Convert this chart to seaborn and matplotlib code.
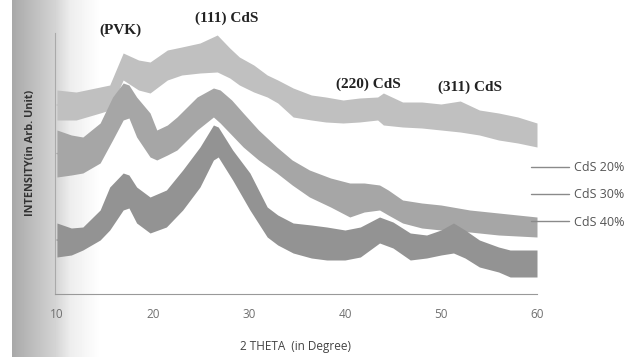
import numpy as np
import pandas as pd
import matplotlib
matplotlib.use("Agg")
import matplotlib.pyplot as plt
import seaborn as sns

# band envelopes (intensity in arb. units, 0 = x-axis)
theta_20 = [10, 12, 14.5, 15.5, 16.9, 18.5, 19.7, 21.5, 23, 24.9, 26.7, 28, 29, 30.5, 31.9, 33,
            34.6, 36.5, 38, 39.8, 41.5, 43.4, 44, 46, 48, 50, 52, 54, 56, 58, 60]
top_20 = [204, 202, 207, 209, 241, 234, 232, 244, 247, 251, 259, 246, 237, 229, 219, 214,
          206, 199, 197, 194, 196, 197, 201, 192, 192, 190, 193, 184, 181, 177, 171]
bot_20 = [174, 174, 181, 184, 214, 204, 201, 214, 219, 221, 222, 216, 209, 202, 197, 191,
          177, 174, 172, 171, 172, 174, 169, 167, 166, 164, 162, 159, 154, 151, 147]

theta_30 = [10, 11.5, 12.7, 14.5, 15.8, 16.9, 17.5, 18.3, 19.7, 20.4, 21.5, 22.5, 24.6, 26.3, 27,
            28.2, 29.4, 31, 32.9, 34.5, 36.3, 38.5, 40.5, 42, 43.6, 44.5, 46, 48, 50, 53, 56, 60]
top_30 = [164, 159, 157, 171, 197, 211, 209, 197, 181, 164, 169, 177, 197, 206, 204,
          194, 181, 164, 147, 134, 124, 116, 111, 111, 109, 104, 94, 91, 89, 84, 81, 77]
bot_30 = [117, 119, 121, 131, 154, 174, 176, 157, 137, 134, 139, 144, 164, 177, 171,
          159, 147, 134, 121, 109, 97, 87, 77, 82, 84, 79, 71, 66, 64, 62, 59, 57]

theta_40 = [10, 11.5, 12.7, 14.5, 15.5, 16.9, 17.5, 18.3, 19.7, 21.4, 23.1, 24.9, 26.3, 26.8,
            28.3, 30.1, 31.9, 33, 34.6, 36.5, 38.1, 40, 41.6, 43.6, 45, 46.8, 48.5, 50, 51.3,
            52.5, 54, 56, 57.2, 60]
top_40 = [71, 66, 67, 84, 107, 121, 119, 107, 97, 104, 124, 147, 169, 167,
          144, 121, 87, 79, 71, 69, 67, 64, 67, 77, 72, 61, 59, 64, 71,
          64, 54, 47, 44, 44]
bot_40 = [37, 39, 44, 54, 64, 84, 86, 71, 61, 67, 84, 107, 134, 137,
          114, 84, 57, 49, 41, 36, 34, 34, 37, 51, 46, 34, 36, 39, 41,
          36, 27, 22, 17, 17]

labels = ["CdS 20%", "CdS 30%", "CdS 40%"]
band_colors = ["#c0c0c0", "#a6a6a6", "#939393"]
peak_names = ["(PVK)", "(111) CdS", "(220) CdS", "(311) CdS"]
peak_pos = [(16.6, 264), (27.7, 276), (42.4, 210), (53.0, 207)]

sns.set_theme(style="white")
plt.rcParams["font.family"] = ["Open Sans", "DejaVu Sans"]

fig = plt.figure(figsize=(6.34, 3.57), dpi=100)

# scan shadow on the left edge
bg = fig.add_axes([0, 0, 1, 1], zorder=-5)
cols = np.arange(634)
shade = np.where(cols < 12, 1.0, np.interp(cols, [12, 55, 70, 100], [0.66, 0.83, 0.93, 1.0]))
bg.imshow(np.tile(shade, (10, 1)), cmap="gray", vmin=0, vmax=1, aspect="auto",
          extent=[0, 1, 0, 1])
bg.axis("off")

ax = fig.add_axes([55 / 634, 1 - 294 / 357, 482 / 634, 261 / 357])
ax.patch.set_alpha(0)

series = [(theta_20, top_20, bot_20), (theta_30, top_30, bot_30), (theta_40, top_40, bot_40)]
for (th, top, bot), lab, col in zip(series, labels, band_colors):
    ax.fill_between(th, bot, top, color=col, lw=0)
    df = pd.DataFrame({"theta": th, "mid": (np.array(top) + np.array(bot)) / 2})
    sns.lineplot(data=df, x="theta", y="mid", ax=ax, color=col, lw=1, label=lab)

for name, (px, py) in zip(peak_names, peak_pos):
    ax.text(px, py, name, ha="center", va="center", fontsize=11, fontweight="bold",
            family=["Liberation Serif"], color="#222222")

ax.set_xlim(9.8, 60)
ax.set_ylim(0, 261)
ax.set_xticks([10, 20, 30, 40, 50, 60])
ax.set_yticks([])
ax.tick_params(axis="x", labelsize=8.5, labelcolor="#707070", pad=10, length=0)
ax.set_xlabel("2 THETA  (in Degree)", fontsize=8.5, color="#444444", labelpad=14)
ax.set_ylabel("")
for s in ["top", "right"]:
    ax.spines[s].set_visible(False)
ax.spines["left"].set_color("#aaaaaa")
ax.spines["bottom"].set_color("#999999")
ax.spines["left"].set_linewidth(0.8)
ax.spines["bottom"].set_linewidth(0.8)

fig.text(30 / 634, 1 - 153 / 357, "INTENSITY(in Arb. Unit)", rotation=90, ha="center",
         va="center", fontsize=7.8, fontweight="bold", color="#333333")

handles, labs = ax.get_legend_handles_labels()
leg = ax.legend(handles, labs, loc="upper left", bbox_to_anchor=(531 / 634, 1 - 161 / 357),
                bbox_transform=fig.transFigure, frameon=False, fontsize=9, handlelength=3,
                handletextpad=0.4, labelspacing=1.15, borderpad=0, borderaxespad=0,
                labelcolor="#555555")
for h in leg.legend_handles:
    h.set_color("#8a8a8a")

fig.savefig("out.png", dpi=100)
